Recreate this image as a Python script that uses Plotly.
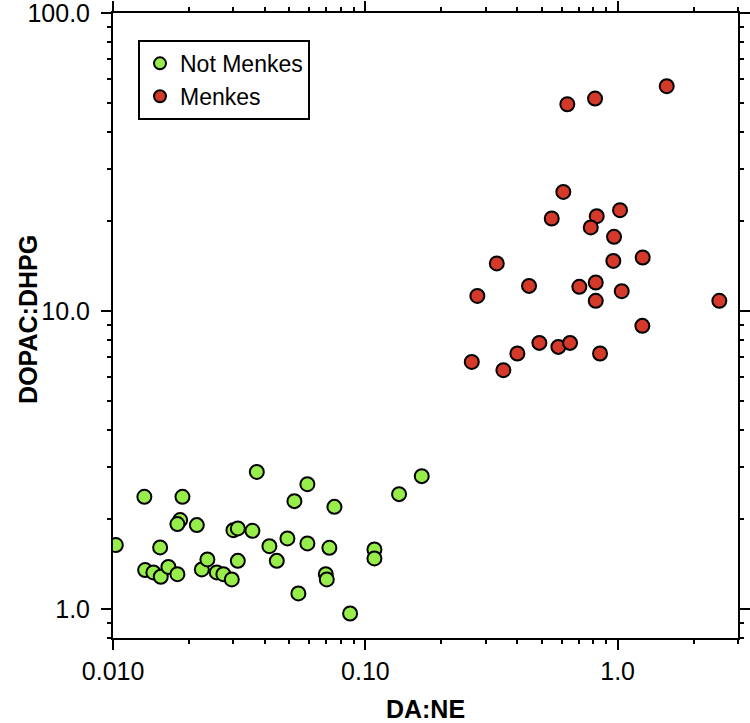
import plotly.graph_objects as go
import math

# Not Menkes (green)
not_menkes_x = [0.01025, 0.01330, 0.01883, 0.01844, 0.01798, 0.02147, 0.01536, 0.01339,
                0.01444, 0.01545, 0.01656, 0.01798, 0.02247, 0.02364, 0.02576, 0.02736,
                0.02954, 0.03121, 0.02998, 0.03121, 0.03566, 0.03712, 0.04164, 0.04455,
                0.04908, 0.05232, 0.05890, 0.05890, 0.05425, 0.07199, 0.06966, 0.07031,
                0.07539, 0.08698, 0.1086, 0.1086, 0.1360, 0.1673]
not_menkes_y = [1.640, 2.382, 2.382, 1.990, 1.929, 1.914, 1.611, 1.352,
                1.328, 1.284, 1.386, 1.310, 1.359, 1.468, 1.328, 1.310,
                1.258, 1.452, 1.841, 1.866, 1.831, 2.888, 1.627, 1.452,
                1.727, 2.304, 2.627, 1.662, 1.129, 1.606, 1.310, 1.258,
                2.204, 0.967, 1.586, 1.480, 2.432, 2.795]

# Menkes (red)
menkes_x = [1.565, 0.6317, 0.8136, 0.6091, 0.5479, 0.8262, 0.7824, 1.022, 0.9676,
            0.3318, 0.9614, 1.257, 0.4454, 0.2779, 0.7049, 0.8189, 1.038, 0.8189,
            2.530, 1.253, 0.4895, 0.5821, 0.6475, 0.8516, 0.4004, 0.2641, 0.3524]
menkes_y = [56.9, 49.5, 51.7, 25.14, 20.47, 20.84, 19.10, 21.83, 17.76,
            14.46, 14.75, 15.14, 12.16, 11.25, 12.07, 12.48, 11.67, 10.83,
            10.83, 8.927, 7.827, 7.589, 7.827, 7.212, 7.212, 6.758, 6.339]

x_tickvals = [0.01, 0.1, 1.0]
x_ticktext = ["0.010", "0.10", "1.0"]
y_tickvals = [1.0, 10.0, 100.0]
y_ticktext = ["1.0", "10.0", "100.0"]
x_title = "DA:NE"
y_title = "DOPAC:DHPG"

x_minor = [m * d for d in (0.01, 0.1, 1.0) for m in range(2, 10)]
y_minor = [m * d for d in (0.1, 1.0, 10.0) for m in range(2, 10)]

FONT = "Liberation Sans, Arial, Helvetica, sans-serif"
FS = 25
GREEN = "#97EE4B"
RED = "#D4392A"

fig = go.Figure()
fig.add_trace(go.Scatter(
    x=not_menkes_x, y=not_menkes_y, mode="markers", name="Not Menkes",
    marker=dict(size=14, color=GREEN, line=dict(color="black", width=2)),
))
fig.add_trace(go.Scatter(
    x=menkes_x, y=menkes_y, mode="markers", name="Menkes",
    marker=dict(size=14, color=RED, line=dict(color="black", width=2)),
))

axis_common = dict(
    type="log", showgrid=False, zeroline=False, automargin=False,
    showline=True, linecolor="black", linewidth=2, mirror="ticks",
    ticks="outside", ticklen=10, tickwidth=2, tickcolor="black",
    tickfont=dict(family=FONT, size=FS, color="black"),
    ticklabeloverflow="allow",
)

fig.update_xaxes(
    **axis_common,
    range=[-2.0005, math.log10(3)],
    tickmode="array", tickvals=x_tickvals, ticktext=x_ticktext,
    ticklabelstandoff=0,
    minor=dict(tickmode="array", tickvals=x_minor, ticks="outside", ticklen=4,
               tickwidth=2, tickcolor="black", showgrid=False),
    title=dict(text="<b>" + x_title + "</b>", font=dict(family=FONT, size=FS, color="black"), standoff=20),
)
fig.update_yaxes(
    **axis_common,
    range=[math.log10(0.8), 2.0008],
    tickmode="array", tickvals=y_tickvals, ticktext=y_ticktext,
    ticklabelstandoff=6,
    minor=dict(tickmode="array", tickvals=y_minor, ticks="outside", ticklen=4,
               tickwidth=2, tickcolor="black", showgrid=False),
)

# y-axis title placed as a rotated annotation for exact positioning
fig.add_annotation(
    text="<b>" + y_title + "</b>", xref="paper", yref="paper",
    x=-0.136, y=0.509, xanchor="center", yanchor="middle",
    textangle=-90, showarrow=False,
    font=dict(family=FONT, size=FS, color="black"),
)

fig.update_layout(
    width=750, height=723,
    margin=dict(l=113, r=12, t=13, b=85, autoexpand=False),
    paper_bgcolor="white", plot_bgcolor="white",
    showlegend=True,
    legend=dict(
        x=0.04, y=0.957, xanchor="left", yanchor="top",
        bgcolor="white", bordercolor="black", borderwidth=2,
        font=dict(family=FONT, size=23, color="black"),
        itemsizing="constant",
    ),
    hovermode=False,
)

# remove the browser's default 8px body margin so the figure sits at the page origin
fig.write_html("out.html", config={"displayModeBar": False},
               post_script="document.body.style.margin='0';")
